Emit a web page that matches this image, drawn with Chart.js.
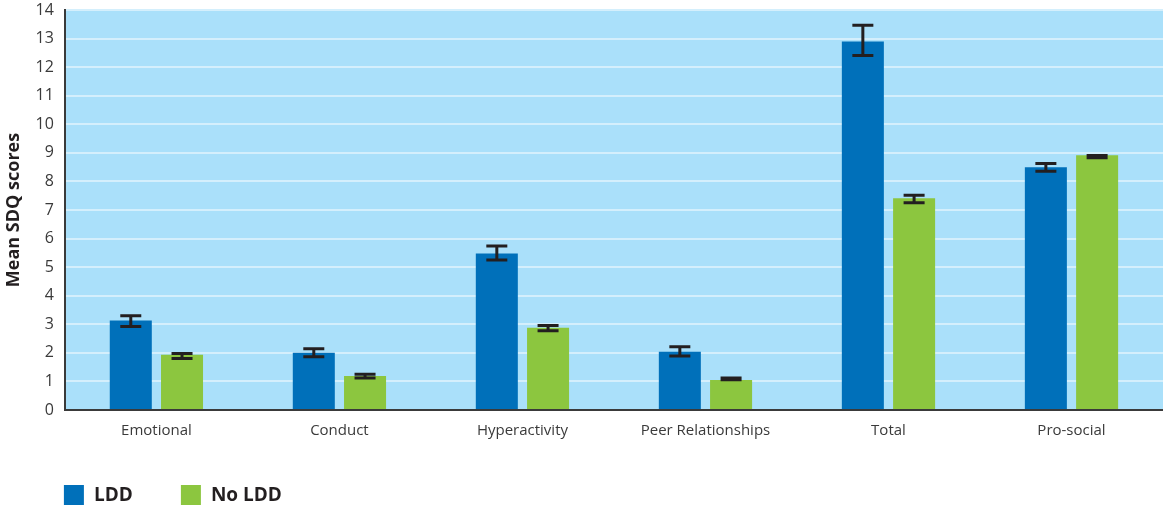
<!DOCTYPE html>
<html>
<head>
<meta charset="utf-8">
<script src="https://cdn.jsdelivr.net/npm/chart.js@4.4.1/dist/chart.umd.min.js"></script>
<style>
    html, body { margin: 0; padding: 0; background: #ffffff; }
    #wrap { width: 1163px; height: 509px; position: relative; }
</style>
</head>
<body>
<div id="wrap"><canvas id="chart"></canvas></div>
<script>
const categories = ['Emotional', 'Conduct', 'Hyperactivity', 'Peer Relationships', 'Total', 'Pro-social'];

// LDD group: mean and error bar limits
const lddMeans = [3.13, 2.0, 5.48, 2.04, 12.9, 8.5];
const lddLow = [2.92, 1.86, 5.25, 1.89, 12.41, 8.36];
const lddHigh = [3.30, 2.14, 5.74, 2.21, 13.47, 8.63];

// No LDD group
const noLddMeans = [1.93, 1.19, 2.88, 1.05, 7.41, 8.92];
const noLddLow = [1.80, 1.12, 2.77, 1.06, 7.25, 8.83];
const noLddHigh = [1.98, 1.25, 2.96, 1.12, 7.52, 8.91];

const yTicks = [0, 1, 2, 3, 4, 5, 6, 7, 8, 9, 10, 11, 12, 13, 14];

const FONT = "'Open Sans', 'Noto Sans', sans-serif";
const BLUE = '#0070ba';
const GREEN = '#8cc63f';

// light blue plot background
const plotBackground = {
    id: 'plotBackground',
    beforeDraw(chart) {
        const { ctx, chartArea } = chart;
        ctx.save();
        ctx.fillStyle = '#aae0fa';
        ctx.fillRect(chartArea.left, chartArea.top, chartArea.right - chartArea.left, chartArea.bottom - chartArea.top);
        ctx.restore();
    }
};

// I-shaped error bars on top of each bar
const errorBars = {
    id: 'errorBars',
    afterDatasetsDraw(chart) {
        const { ctx } = chart;
        const yScale = chart.scales.y;
        ctx.save();
        ctx.strokeStyle = '#231f20';
        ctx.lineWidth = 3;
        chart.data.datasets.forEach((ds, di) => {
            const meta = chart.getDatasetMeta(di);
            meta.data.forEach((bar, i) => {
                const yLo = yScale.getPixelForValue(ds.errLow[i]);
                const yHi = yScale.getPixelForValue(ds.errHigh[i]);
                const half = 10.5;
                ctx.beginPath();
                ctx.moveTo(bar.x, yLo);
                ctx.lineTo(bar.x, yHi);
                ctx.moveTo(bar.x - half, yLo);
                ctx.lineTo(bar.x + half, yLo);
                ctx.moveTo(bar.x - half, yHi);
                ctx.lineTo(bar.x + half, yHi);
                ctx.stroke();
            });
        });
        ctx.restore();
    }
};

// legend in the bottom-left corner, lined up with the plot's left edge
const bottomLegend = {
    id: 'bottomLegend',
    afterDraw(chart) {
        const { ctx, chartArea } = chart;
        const y = chart.height - 14;
        let x = chartArea.left - 1;
        ctx.save();
        ctx.font = 'bold 19px ' + FONT;
        ctx.textBaseline = 'middle';
        chart.data.datasets.forEach(ds => {
            ctx.fillStyle = ds.backgroundColor;
            ctx.fillRect(x, y - 10, 20, 20);
            ctx.fillStyle = '#231f20';
            ctx.fillText(ds.label, x + 30, y + 1);
            x += 117;
        });
        ctx.restore();
    }
};

new Chart(document.getElementById('chart'), {
    type: 'bar',
    data: {
        labels: categories,
        datasets: [
            {
                label: 'LDD',
                data: lddMeans,
                errLow: lddLow,
                errHigh: lddHigh,
                backgroundColor: BLUE,
                categoryPercentage: 0.56,
                barPercentage: 0.82,
            },
            {
                label: 'No LDD',
                data: noLddMeans,
                errLow: noLddLow,
                errHigh: noLddHigh,
                backgroundColor: GREEN,
                categoryPercentage: 0.56,
                barPercentage: 0.82,
            }
        ]
    },
    options: {
        responsive: true,
        maintainAspectRatio: false,
        animation: false,
        layout: {
            padding: { top: 10, right: 0, bottom: 57, left: 0 }
        },
        plugins: {
            legend: { display: false },
            tooltip: { enabled: false }
        },
        scales: {
            x: {
                grid: { display: false, drawTicks: false },
                border: { display: true, color: '#3a3a3a', width: 2 },
                ticks: {
                    color: '#3a3a3a',
                    padding: 12,
                    font: { family: FONT, size: 15 }
                }
            },
            y: {
                min: 0,
                max: 14,
                afterBuildTicks(scale) {
                    scale.ticks = yTicks.map(v => ({ value: v }));
                },
                afterFit(scale) {
                    // the top label may stick out above the plot, as in the original
                    scale.paddingTop = 0;
                },
                grid: {
                    color: '#d4effc',
                    lineWidth: 2,
                    drawTicks: false
                },
                border: { display: true, color: '#3a3a3a', width: 2 },
                ticks: {
                    color: '#3a3a3a',
                    padding: 11,
                    font: { family: FONT, size: 16 }
                },
                title: {
                    display: true,
                    text: 'Mean SDQ scores',
                    color: '#231f20',
                    padding: { top: 3, bottom: 0 },
                    font: { family: FONT, size: 18, weight: 'bold' }
                }
            }
        }
    },
    plugins: [plotBackground, errorBars, bottomLegend]
});
</script>
</body>
</html>
